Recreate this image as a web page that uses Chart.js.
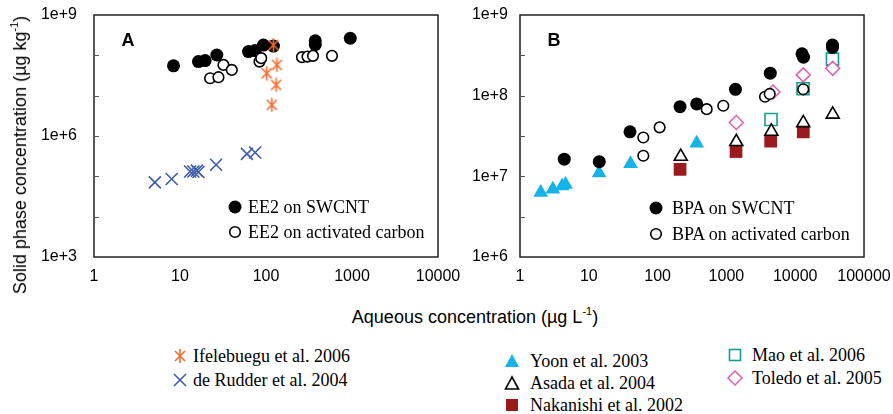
<!DOCTYPE html>
<html><head><meta charset="utf-8">
<script src="https://cdn.jsdelivr.net/npm/chart.js@4.4.1/dist/chart.umd.min.js"></script>
<style>
html,body{margin:0;padding:0;background:#fff;width:893px;height:414px;overflow:hidden;}
body{position:relative;font-family:"Liberation Sans",Arial,sans-serif;color:#000;}
.w{position:absolute;top:0;}
.t{position:absolute;white-space:nowrap;line-height:20px;}
.sans{font-family:"Liberation Sans",Arial,sans-serif;font-size:18px;}
.serif{font-family:"Liberation Serif","Times New Roman",serif;font-size:18px;}
sup{font-size:11px;vertical-align:8px;line-height:0;}
svg.m{position:absolute;overflow:visible;}
</style>
</head><body>
<div class="w" style="left:0;width:475px;height:300px;"><canvas id="ca" width="475" height="300" style="width:475px;height:300px;"></canvas></div>
<div class="w" style="left:440px;width:453px;height:300px;"><canvas id="cb" width="453" height="300" style="width:453px;height:300px;"></canvas></div>

<div class="t sans" id="ytitle" style="left:20px;top:155px;transform:translate(-50%,-50%) rotate(-90deg);">Solid phase concentration (µg kg<sup>-1</sup>)</div>
<div class="t sans" style="left:475px;top:317px;transform:translate(-50%,-50%);">Aqueous concentration (µg L<sup>-1</sup>)</div>
<div class="t sans" style="left:128px;top:40px;transform:translate(-50%,-50%);font-weight:bold;">A</div>
<div class="t sans" style="left:554px;top:40px;transform:translate(-50%,-50%);font-weight:bold;">B</div>

<!-- inner legends -->
<svg class="m" style="left:235px;top:207px" width="1" height="1"><circle cx="0" cy="0" r="6.5" fill="#000"/></svg>
<div class="t serif" style="left:248px;top:197px;">EE2 on SWCNT</div>
<svg class="m" style="left:235px;top:232px" width="1" height="1"><circle cx="0" cy="0" r="5.3" fill="#fff" stroke="#000" stroke-width="1.6"/></svg>
<div class="t serif" style="left:248px;top:222px;">EE2 on activated carbon</div>

<svg class="m" style="left:656px;top:208px" width="1" height="1"><circle cx="0" cy="0" r="6.5" fill="#000"/></svg>
<div class="t serif" style="left:672px;top:198px;">BPA on SWCNT</div>
<svg class="m" style="left:656px;top:234px" width="1" height="1"><circle cx="0" cy="0" r="5.3" fill="#fff" stroke="#000" stroke-width="1.6"/></svg>
<div class="t serif" style="left:672px;top:224px;">BPA on activated carbon</div>

<!-- bottom legends -->
<svg class="m" style="left:180px;top:356px" width="1" height="1"><g stroke="#F26B2C" stroke-width="1.6"><line x1="-5" y1="-5" x2="5" y2="5"/><line x1="-5" y1="5" x2="5" y2="-5"/><line x1="0" y1="-7" x2="0" y2="7"/></g></svg>
<div class="t serif" style="left:193px;top:346px;">Ifelebuegu et al. 2006</div>
<svg class="m" style="left:180px;top:380px" width="1" height="1"><g stroke="#3F5BAA" stroke-width="1.6"><line x1="-6" y1="-6" x2="6" y2="6"/><line x1="-6" y1="6" x2="6" y2="-6"/></g></svg>
<div class="t serif" style="left:193px;top:370px;">de Rudder et al. 2004</div>

<svg class="m" style="left:512px;top:362px" width="1" height="1"><polygon points="0,-8 7,5 -7,5" fill="#14B4E6"/></svg>
<div class="t serif" style="left:530px;top:351px;">Yoon et al. 2003</div>
<svg class="m" style="left:512px;top:384px" width="1" height="1"><polygon points="0,-7 6.5,5 -6.5,5" fill="#fff" stroke="#000" stroke-width="1.6"/></svg>
<div class="t serif" style="left:530px;top:373px;">Asada et al. 2004</div>
<svg class="m" style="left:512px;top:405px" width="1" height="1"><rect x="-6" y="-6" width="12" height="12" fill="#9A1A1E"/></svg>
<div class="t serif" style="left:530px;top:395px;">Nakanishi et al. 2002</div>

<svg class="m" style="left:735px;top:355px" width="1" height="1"><rect x="-5.5" y="-5.5" width="11" height="11" fill="#fff" stroke="#1A9A96" stroke-width="1.6"/></svg>
<div class="t serif" style="left:752px;top:345px;">Mao et al. 2006</div>
<svg class="m" style="left:735px;top:378px" width="1" height="1"><polygon points="0,-7 7,0 0,7 -7,0" fill="#fff" stroke="#E060B0" stroke-width="1.5"/></svg>
<div class="t serif" style="left:752px;top:368px;">Toledo et al. 2005</div>

<script>
// ---------- Panel A data (EE2) ----------
const ee2SwcntX = [8.4, 16.4, 19.6, 26.8, 62.6, 74.8, 93.5, 122, 374, 374, 955];
const ee2SwcntY = [5.5e7, 7.0e7, 7.4e7, 1.02e8, 1.24e8, 1.31e8, 1.8e8, 1.7e8, 1.84e8, 2.3e8, 2.65e8];
const ee2AcX = [22.4, 28, 32, 40, 84, 88, 262, 304, 352, 585];
const ee2AcY = [2.7e7, 2.87e7, 5.8e7, 4.35e7, 7.0e7, 8.5e7, 9.0e7, 9.3e7, 9.7e7, 9.7e7];
const ifelebueguX = [122, 134, 102, 131, 117];
const ifelebueguY = [1.8e8, 5.8e7, 3.6e7, 1.85e7, 5.9e6];
const deRudderX = [5.1, 8.0, 13.1, 14.3, 15.7, 16.4, 26.3, 60, 74.8];
const deRudderY = [7.1e4, 8.6e4, 1.32e5, 1.32e5, 1.38e5, 1.28e5, 1.94e5, 3.6e5, 3.9e5];

// ---------- Panel B data (BPA) ----------
const bpaSwcntX = [4.4, 14.2, 39.7, 212, 370, 1355, 4345, 12560, 13200, 34800, 34800];
const bpaSwcntY = [1.63e7, 1.52e7, 3.56e7, 7.3e7, 7.9e7, 1.2e8, 1.9e8, 3.3e8, 3.0e8, 4.25e8, 3.96e8];
const bpaAcX = [62, 62, 107, 517, 901, 3640, 4260, 13100];
const bpaAcY = [1.8e7, 3.03e7, 4.05e7, 6.8e7, 7.5e7, 9.7e7, 1.05e8, 1.2e8];
const yoonX = [2.0, 3.0, 4.1, 4.6, 14.1, 40.4, 370];
const yoonY = [6.3e6, 6.9e6, 7.6e6, 7.9e6, 1.1e7, 1.43e7, 2.57e7];
const asadaX = [217, 1393, 4500, 13100, 35100];
const asadaY = [1.76e7, 2.68e7, 3.6e7, 4.6e7, 5.87e7];
const nakanishiX = [212, 1380, 4400, 13100];
const nakanishiY = [1.22e7, 2.03e7, 2.73e7, 3.56e7];
const maoX = [4450, 13000, 34800];
const maoY = [5.06e7, 1.22e8, 2.84e8];
const toledoX = [1393, 4760, 13100, 35100];
const toledoY = [4.65e7, 1.11e8, 1.81e8, 2.18e8];

// ---------- Tick values / labels ----------
const aXTicks = [1, 10, 100, 1000, 10000];
const aXTickLabels = ['1', '10', '100', '1000', '10000'];
const aYTicks = [1e3, 1e4, 1e5, 1e6, 1e7, 1e8, 1e9];
const aYTickLabels = ['1e+3', '', '', '1e+6', '', '', '1e+9'];
const bXTicks = [1, 10, 100, 1000, 10000, 100000];
const bXTickLabels = ['1', '10', '100', '1000', '10000', '100000'];
const bYTicks = [1e6, 3.1623e6, 1e7, 3.1623e7, 1e8, 3.1623e8, 1e9];
const bYTickLabels = ['1e+6', '', '1e+7', '', '1e+8', '', '1e+9'];

const pts = (xs, ys) => xs.map((x, i) => ({x: x, y: ys[i]}));

function makeStar(color) {
  const c = document.createElement('canvas');
  c.width = 15; c.height = 15;
  const g = c.getContext('2d');
  g.strokeStyle = color; g.lineWidth = 1.6;
  g.beginPath();
  g.moveTo(2.5, 2.5); g.lineTo(12.5, 12.5);
  g.moveTo(2.5, 12.5); g.lineTo(12.5, 2.5);
  g.moveTo(7.5, 0.5); g.lineTo(7.5, 14.5);
  g.stroke();
  return c;
}

const tickFont = {family: '"Liberation Sans", Arial, sans-serif', size: 16};

function axis(min, max, ticks, labels, pad, size, horizontal) {
  return {
    type: 'logarithmic', min: min, max: max,
    grid: {display: false, drawTicks: false},
    border: {display: false},
    afterBuildTicks: s => { s.ticks = ticks.map(v => ({value: v})); },
    ticks: {autoSkip: false, maxRotation: 0, minRotation: 0, padding: pad, color: '#000', font: tickFont,
            callback: (v, i) => labels[i]},
    afterFit: s => {
      if (horizontal) s.height = size; else s.width = size;
      s.paddingLeft = 0; s.paddingRight = 0; s.paddingTop = 0; s.paddingBottom = 0;
    }
  };
}

const framePlugin = {
  id: 'frame',
  afterDraw(chart) {
    const a = chart.chartArea, ctx = chart.ctx, ys = chart.scales.y;
    ctx.save();
    ctx.strokeStyle = '#222'; ctx.lineWidth = 1.5;
    ctx.strokeRect(a.left, a.top, a.right - a.left, a.bottom - a.top);
    ctx.lineWidth = 1;
    ctx.strokeStyle = '#555';
    ctx.beginPath();
    ys.ticks.forEach(t => {
      if (t.value <= ys.min || t.value >= ys.max) return;
      const py = Math.round(ys.getPixelForValue(t.value)) + 0.5;
      ctx.moveTo(a.left, py); ctx.lineTo(a.left + 5, py);
    });
    ctx.stroke();
    ctx.restore();
  }
};

const common = (xAx, yAx, padding) => ({
  responsive: false, animation: false, events: [],
  layout: {padding: padding},
  plugins: {legend: {display: false}, tooltip: {enabled: false}},
  scales: {x: xAx, y: yAx}
});

new Chart(document.getElementById('ca'), {
  type: 'scatter',
  data: {datasets: [
    {label: 'Ifelebuegu et al. 2006', data: pts(ifelebueguX, ifelebueguY), pointStyle: makeStar('#F26B2C'), pointRadius: 7},
    {label: 'de Rudder et al. 2004', data: pts(deRudderX, deRudderY), pointStyle: 'crossRot', pointRadius: 8.5,
     borderColor: '#3F5BAA', borderWidth: 1.6},
    {label: 'EE2 on activated carbon', data: pts(ee2AcX, ee2AcY), pointStyle: 'circle', pointRadius: 5.3,
     backgroundColor: '#fff', borderColor: '#000', borderWidth: 1.6},
    {label: 'EE2 on SWCNT', data: pts(ee2SwcntX, ee2SwcntY), pointStyle: 'circle', pointRadius: 6.5,
     backgroundColor: '#000', borderColor: '#000', borderWidth: 0}
  ]},
  options: common(axis(1, 10000, aXTicks, aXTickLabels, 10, 43, true),
                  axis(1e3, 1e9, aYTicks, aYTickLabels, 17, 94, false),
                  {left: 0, right: 37, top: 15, bottom: 0}),
  plugins: [framePlugin]
});

new Chart(document.getElementById('cb'), {
  type: 'scatter',
  data: {datasets: [
    {label: 'BPA on activated carbon', data: pts(bpaAcX, bpaAcY), pointStyle: 'circle', pointRadius: 5.3,
     backgroundColor: '#fff', borderColor: '#000', borderWidth: 1.6},
    {label: 'BPA on SWCNT', data: pts(bpaSwcntX, bpaSwcntY), pointStyle: 'circle', pointRadius: 6.5,
     backgroundColor: '#000', borderColor: '#000', borderWidth: 0},
    {label: 'Asada et al. 2004', data: pts(asadaX, asadaY), pointStyle: 'triangle', pointRadius: 7.5,
     backgroundColor: '#fff', borderColor: '#000', borderWidth: 1.6},
    {label: 'Nakanishi et al. 2002', data: pts(nakanishiX, nakanishiY), pointStyle: 'rect', pointRadius: 9,
     backgroundColor: '#9A1A1E', borderColor: '#9A1A1E', borderWidth: 0},
    {label: 'Yoon et al. 2003', data: pts(yoonX, yoonY), pointStyle: 'triangle', pointRadius: 8.5,
     backgroundColor: '#14B4E6', borderColor: '#14B4E6', borderWidth: 0},
    {label: 'Toledo et al. 2005', data: pts(toledoX, toledoY), pointStyle: 'rectRot', pointRadius: 7,
     backgroundColor: '#fff', borderColor: '#E060B0', borderWidth: 1.5},
    {label: 'Mao et al. 2006', data: pts(maoX, maoY), pointStyle: 'rect', pointRadius: 8.5,
     backgroundColor: '#fff', borderColor: '#1A9A96', borderWidth: 1.6}
  ]},
  options: common(axis(1, 100000, bXTicks, bXTickLabels, 10, 43, true),
                  axis(1e6, 1e9, bYTicks, bYTickLabels, 12, 80, false),
                  {left: 0, right: 29, top: 15, bottom: 0}),
  plugins: [framePlugin]
});
</script>
</body></html>
